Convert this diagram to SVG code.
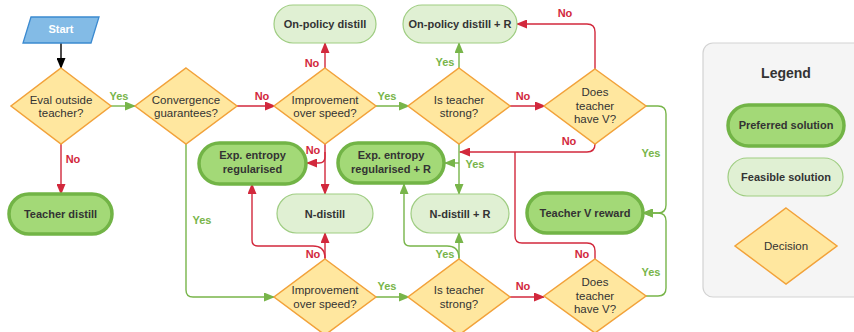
<svg xmlns="http://www.w3.org/2000/svg" width="854" height="332" viewBox="0 0 854 332">
<defs>
<style>
text{font-family:"Liberation Sans",Arial,sans-serif;fill:#333}
.dec{fill:#ffe79f;stroke:#f2a23a;stroke-width:1.5}
.dt{font-size:11.5px;text-anchor:middle}
.pref{fill:#a3d977;stroke:#72b446;stroke-width:3.5}
.feas{fill:#e0f0d3;stroke:#9fcd82;stroke-width:1.2}
.nt{font-size:11px;font-weight:bold;text-anchor:middle}
.r{fill:none;stroke:#d2283c;stroke-width:1.4}
.g{fill:none;stroke:#78b54a;stroke-width:1.4}
.k{fill:none;stroke:#000;stroke-width:1.4}
.ry{font-size:11px;font-weight:bold;text-anchor:middle;fill:#d2283c}
.gy{font-size:11px;font-weight:bold;text-anchor:middle;fill:#78b54a}
</style>
<marker id="ar" markerUnits="userSpaceOnUse" markerWidth="11" markerHeight="9" refX="10" refY="4.5" orient="auto"><path d="M0,0 L11,4.5 L0,9 z" fill="#d2283c"/></marker>
<marker id="ag" markerUnits="userSpaceOnUse" markerWidth="11" markerHeight="9" refX="10" refY="4.5" orient="auto"><path d="M0,0 L11,4.5 L0,9 z" fill="#78b54a"/></marker>
<marker id="ak" markerUnits="userSpaceOnUse" markerWidth="11" markerHeight="9" refX="10" refY="4.5" orient="auto"><path d="M0,0 L11,4.5 L0,9 z" fill="#000"/></marker>
</defs>
<rect width="854" height="332" fill="#fff"/>

<g id="legend">
<rect x="703" y="43" width="170" height="254" rx="10" fill="#f5f5f5" stroke="#d3d3d3" stroke-width="1.2"/>
<text x="786" y="78" font-size="14" font-weight="bold" text-anchor="middle">Legend</text>
<rect class="pref" x="728" y="105" width="116" height="41" rx="20.5"/>
<text class="nt" x="786" y="129">Preferred solution</text>
<rect class="feas" x="728" y="158" width="115" height="38" rx="19"/>
<text class="nt" x="786" y="181">Feasible solution</text>
<polygon class="dec" points="786,208 837,246 786,284 735,246"/>
<text class="dt" x="786" y="250">Decision</text>
</g>

<g id="connectors">
<path class="k" d="M61,43 L61,68" marker-end="url(#ak)"/>
<path class="g" d="M110,106 L135,106" marker-end="url(#ag)"/>
<path class="r" d="M61,144 L61,194" marker-end="url(#ar)"/>
<path class="r" d="M237,106 L275,106" marker-end="url(#ar)"/>
<path class="r" d="M325,68 L325,43" marker-end="url(#ar)"/>
<path class="g" d="M376,106 L409,106" marker-end="url(#ag)"/>
<path class="g" d="M459,68 L459,43" marker-end="url(#ag)"/>
<path class="r" d="M510,106 L545,106" marker-end="url(#ar)"/>
<path class="r" d="M595,69 L595,32 Q595,24 587,24 L517,24" marker-end="url(#ar)"/>
<path class="r" d="M325,144 L325,194" marker-end="url(#ar)"/>
<path class="r" d="M325,152 L325,157 Q325,163 319,163 L307,163" marker-end="url(#ar)"/>
<path class="r" d="M325,259 L325,233" marker-end="url(#ar)"/>
<path class="r" d="M325,258 Q325,246 313,246 L258,246 Q252,246 252,240 L252,184" marker-end="url(#ar)"/>
<path class="g" d="M186,144 L186,290 Q186,297 193,297 L274,297" marker-end="url(#ag)"/>
<path class="g" d="M376,297 L409,297" marker-end="url(#ag)"/>
<path class="g" d="M459,259 L459,233" marker-end="url(#ag)"/>
<path class="g" d="M459,258 Q459,246 447,246 L410,246 Q404,246 404,240 L404,184" marker-end="url(#ag)"/>
<path class="g" d="M459,144 L459,194" marker-end="url(#ag)"/>
<path class="g" d="M459,163 L445,163" marker-end="url(#ag)"/>
<path class="r" d="M510,297 L544,297" marker-end="url(#ar)"/>
<path class="r" d="M595,144 Q595,152 587,152 L460,152" marker-end="url(#ar)"/>
<path class="r" d="M595,259 L595,251 Q595,243 587,243 L522,243 Q515,243 515,236 L515,152"/>
<path class="g" d="M646,106 L658,106 Q666,106 666,114 L666,205 Q666,213 658,213 L643,213" marker-end="url(#ag)"/>
<path class="g" d="M646,296 L658,296 Q666,296 666,288 L666,221 Q666,213 658,213 L643,213" marker-end="url(#ag)"/>
<text class="gy" x="119" y="100">Yes</text>
<text class="ry" x="73" y="163">No</text>
<text class="ry" x="262" y="100">No</text>
<text class="ry" x="312" y="67">No</text>
<text class="gy" x="387" y="100">Yes</text>
<text class="gy" x="445" y="66">Yes</text>
<text class="ry" x="523" y="100">No</text>
<text class="ry" x="565" y="17">No</text>
<text class="ry" x="313" y="154">No</text>
<text class="ry" x="313" y="258">No</text>
<text class="gy" x="202" y="224">Yes</text>
<text class="gy" x="387" y="290">Yes</text>
<text class="gy" x="445" y="258">Yes</text>
<text class="gy" x="475" y="168">Yes</text>
<text class="ry" x="523" y="290">No</text>
<text class="ry" x="569" y="145">No</text>
<text class="ry" x="582" y="258">No</text>
<text class="gy" x="651" y="157">Yes</text>
<text class="gy" x="651" y="276">Yes</text>
</g>

<g id="start">
<polygon points="31,17 99,17 91,43 23,43" fill="#83bbe6" stroke="#3b8ad0" stroke-width="1.3"/>
<text x="61" y="33" font-size="11" font-weight="bold" text-anchor="middle" style="fill:#fff">Start</text>
</g>

<g id="d-eval">
<polygon class="dec" points="61,68 111,106 61,144 11,106"/>
<text class="dt" x="61" y="103.5">Eval outside</text>
<text class="dt" x="61" y="117">teacher?</text>
</g>
<g id="d-conv">
<polygon class="dec" points="186,68 237,106 186,144 135,106"/>
<text class="dt" x="186" y="103.5">Convergence</text>
<text class="dt" x="186" y="117">guarantees?</text>
</g>
<g id="d-imp1">
<polygon class="dec" points="325,68 376,106 325,144 274,106"/>
<text class="dt" x="325" y="103.5">Improvement</text>
<text class="dt" x="325" y="117">over speed?</text>
</g>
<g id="d-strong1">
<polygon class="dec" points="459,68 510,106 459,144 408,106"/>
<text class="dt" x="459" y="103.5">Is teacher</text>
<text class="dt" x="459" y="117">strong?</text>
</g>
<g id="d-v1">
<polygon class="dec" points="595,69 646,106 595,144 544,106"/>
<text class="dt" x="595" y="96">Does</text>
<text class="dt" x="595" y="109.5">teacher</text>
<text class="dt" x="595" y="123">have V?</text>
</g>
<g id="d-imp2">
<polygon class="dec" points="325,259 376,297 325,335 274,297"/>
<text class="dt" x="325" y="294">Improvement</text>
<text class="dt" x="325" y="307.5">over speed?</text>
</g>
<g id="d-strong2">
<polygon class="dec" points="459,259 510,297 459,335 408,297"/>
<text class="dt" x="459" y="294">Is teacher</text>
<text class="dt" x="459" y="307.5">strong?</text>
</g>
<g id="d-v2">
<polygon class="dec" points="595,259 646,296 595,333 544,296"/>
<text class="dt" x="595" y="286">Does</text>
<text class="dt" x="595" y="299.5">teacher</text>
<text class="dt" x="595" y="313">have V?</text>
</g>

<g id="n-teacher-distill">
<rect class="pref" x="9" y="194" width="103" height="40" rx="20"/>
<text class="nt" x="60.5" y="218">Teacher distill</text>
</g>
<g id="n-onpolicy">
<rect class="feas" x="274" y="5" width="102" height="38" rx="19"/>
<text class="nt" x="325" y="28">On-policy distill</text>
</g>
<g id="n-onpolicy-r">
<rect class="feas" x="403" y="5" width="114" height="38" rx="19"/>
<text class="nt" x="460" y="28">On-policy distill + R</text>
</g>
<g id="n-exp">
<rect class="pref" x="199" y="143" width="107" height="41" rx="20.5"/>
<text class="nt" x="252.5" y="159">Exp. entropy</text>
<text class="nt" x="252.5" y="173">regularised</text>
</g>
<g id="n-exp-r">
<rect class="pref" x="338" y="143" width="106" height="40" rx="20"/>
<text class="nt" x="391" y="159">Exp. entropy</text>
<text class="nt" x="391" y="173">regularised + R</text>
</g>
<g id="n-ndistill">
<rect class="feas" x="277" y="194" width="96" height="39" rx="19.5"/>
<text class="nt" x="325" y="217.5">N-distill</text>
</g>
<g id="n-ndistill-r">
<rect class="feas" x="411" y="194" width="98" height="39" rx="19.5"/>
<text class="nt" x="460" y="217.5">N-distill + R</text>
</g>
<g id="n-teacher-v">
<rect class="pref" x="527" y="193" width="116" height="40" rx="20"/>
<text class="nt" x="585" y="217">Teacher V reward</text>
</g>
</svg>
